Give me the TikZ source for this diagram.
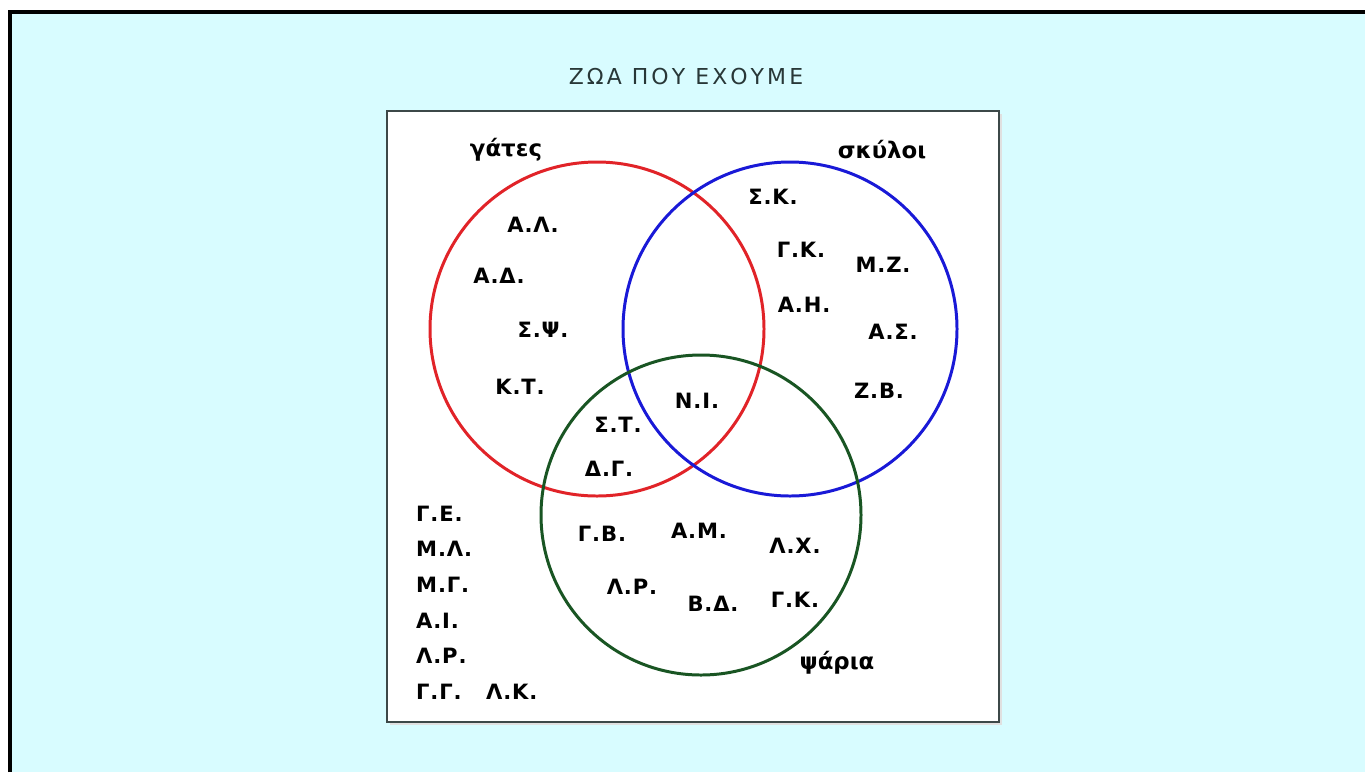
\documentclass[tikz,border=0pt]{standalone}
\usepackage{fontspec}
\setmainfont{DejaVu Sans}
\definecolor{fundo}{RGB}{216,252,255}
\definecolor{moldura}{RGB}{60,72,72}
\definecolor{titulo}{RGB}{40,55,55}
\definecolor{cvermelho}{RGB}{225,35,40}
\definecolor{cazul}{RGB}{25,25,215}
\definecolor{cverde}{RGB}{25,85,35}

\begin{document}
\begin{tikzpicture}[x=0.02cm,y=-0.02cm,
    nome/.style={font=\bfseries\fontsize{13}{15}\selectfont},
    sigla/.style={font=\bfseries\fontsize{12}{14}\selectfont\addfontfeature{LetterSpace=4}},
    conjunto/.style={line width=1.7pt}]
    % parameters
    \def\R{167}
    \def\Rv{160}
    \coordinate (G) at (597,329);
    \coordinate (S) at (790,329);
    \coordinate (P) at (701,515);

    % background and frame
    \useasboundingbox (0,0) rectangle (1365,772);
    \fill[white] (0,0) rectangle (1365,772);
    \fill[fundo] (10,12) rectangle (1365,772);
    \draw[line width=1.8pt] (10,772) -- (10,12) -- (1365,12);

    % title
    \node[font=\fontsize{12.5}{14}\selectfont\addfontfeature{LetterSpace=14}, text=titulo] (titulo) at (686,76) {ΖΩΑ ΠΟΥ ΕΧΟΥΜΕ};

    % box
    \fill[black!12] (390,114) rectangle (1002,725);
    \draw[moldura, line width=1.2pt, fill=white] (387,111) rectangle (999,722);

    % sets
    \draw[conjunto, cvermelho] (G) circle (\R);
    \draw[conjunto, cazul] (S) circle (\R);
    \draw[conjunto, cverde] (P) circle (\Rv);

    % set names
    \node[nome] (gates) at (506,150) {γάτες};
    \node[nome] (skyloi) at (882,150) {σκύλοι};
    \node[nome] (psaria) at (837,663) {ψάρια};

    % cats only
    \node[sigla] (al) at (533,225) {Α.Λ.};
    \node[sigla] (ad) at (499,276) {Α.Δ.};
    \node[sigla] (sps) at (543,330) {Σ.Ψ.};
    \node[sigla] (kt) at (520,387) {Κ.Τ.};

    % dogs only
    \node[sigla] (sk) at (773,197) {Σ.Κ.};
    \node[sigla] (gk) at (801,250) {Γ.Κ.};
    \node[sigla] (mz) at (883,265) {Μ.Ζ.};
    \node[sigla] (ah) at (804,305) {Α.Η.};
    \node[sigla] (as) at (893,332) {Α.Σ.};
    \node[sigla] (zb) at (879,391) {Ζ.Β.};

    % intersections
    \node[sigla] (ni) at (697,401) {Ν.Ι.};
    \node[sigla] (st) at (618,425) {Σ.Τ.};
    \node[sigla] (dg) at (609,469) {Δ.Γ.};

    % fish only
    \node[sigla] (gb) at (602,534) {Γ.Β.};
    \node[sigla] (am) at (699,531) {Α.Μ.};
    \node[sigla] (lx) at (795,546) {Λ.Χ.};
    \node[sigla] (lr) at (632,587) {Λ.Ρ.};
    \node[sigla] (bd) at (713,604) {Β.Δ.};
    \node[sigla] (gk2) at (795,600) {Γ.Κ.};

    % none
    \node[sigla, anchor=west] (ge) at (410,514) {Γ.Ε.};
    \node[sigla, anchor=west] (ml) at (410,549) {Μ.Λ.};
    \node[sigla, anchor=west] (mg) at (410,585) {Μ.Γ.};
    \node[sigla, anchor=west] (ai) at (410,621) {Α.Ι.};
    \node[sigla, anchor=west] (lr2) at (410,656) {Λ.Ρ.};
    \node[sigla, anchor=west] (gg) at (410,692) {Γ.Γ.};
    \node[sigla, anchor=west] (lk) at (480,692) {Λ.Κ.};
\end{tikzpicture}
\end{document}
